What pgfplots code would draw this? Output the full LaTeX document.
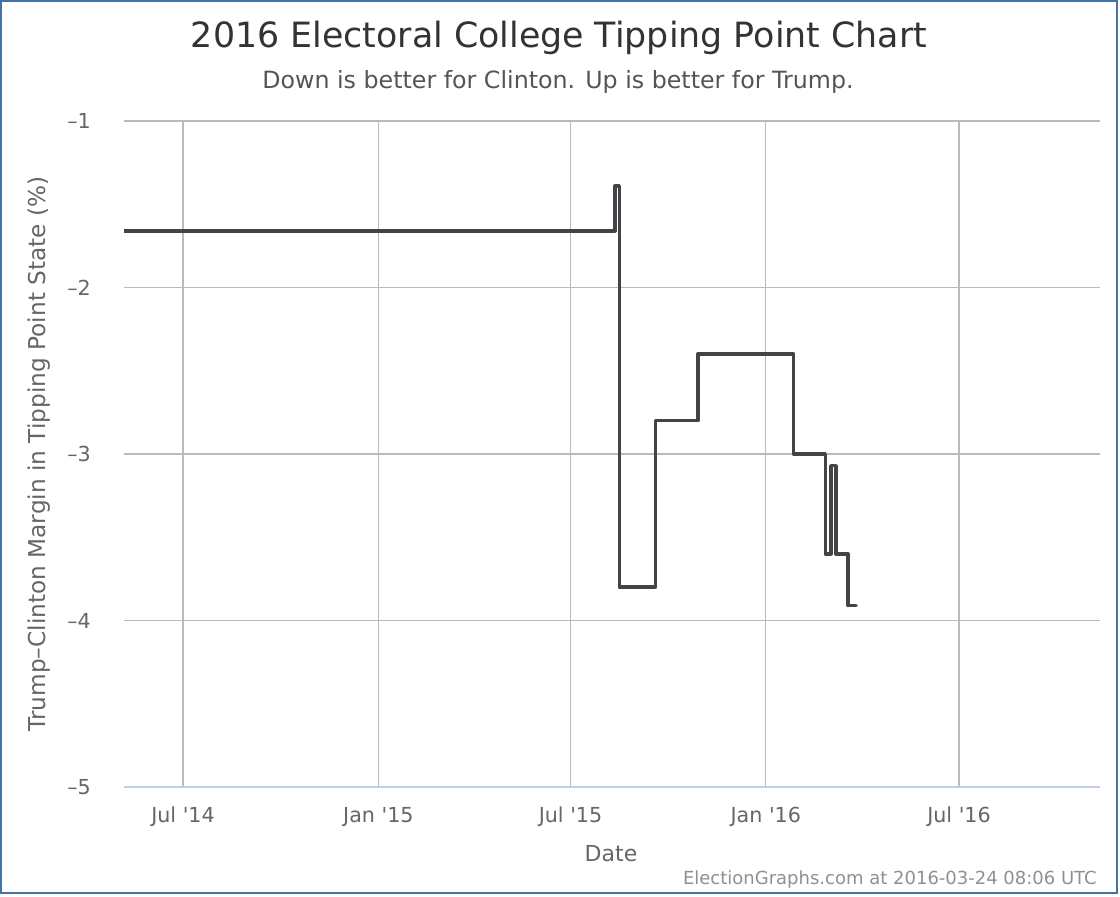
\documentclass[border=0pt]{standalone}
\usepackage{fontspec}
\setmainfont{DejaVu Sans}
\usepackage{pgfplots}
\pgfplotsset{compat=1.18}
\definecolor{bordercol}{HTML}{4572A7}
\definecolor{gridcol}{HTML}{BABABA}
\definecolor{axiscol}{HTML}{C0D0E0}
\definecolor{linecol}{HTML}{434348}
\definecolor{titlecol}{HTML}{333333}
\definecolor{subcol}{HTML}{555555}
\definecolor{labcol}{HTML}{666666}
\definecolor{credcol}{HTML}{909090}
\begin{document}
\begin{tikzpicture}
\path[use as bounding box] (0pt,0pt) rectangle (840pt,672pt);
\fill[white] (0pt,0pt) rectangle (840pt,672pt);
\begin{axis}[
  at={(93pt,81.75pt)}, anchor=south west,
  scale only axis,
  width=732pt, height=499.5pt,
  xmin=-55.6, xmax=863.8, ymin=-5, ymax=-1,
  xtick={0,184,365,549,731},
  xticklabels={Jul \textquotesingle14, Jan \textquotesingle15, Jul \textquotesingle15, Jan \textquotesingle16, Jul \textquotesingle16},
  ytick={-5,-4,-3,-2,-1},
  yticklabels={\textendash5,\textendash4,\textendash3,\textendash2,\textendash1},
  major tick length=0pt,
  xmajorgrids, ymajorgrids,
  grid style={draw=gridcol, line width=0.9pt},
  axis line style={draw=none},
  tick label style={font=\fontsize{15.5pt}{18pt}\selectfont, text=labcol},
  xticklabel style={anchor=north, inner sep=0pt, yshift=-15pt},
  yticklabel style={anchor=east, inner sep=0pt, xshift=-24.75pt},
  clip=true,
]
\draw[axiscol, line width=0.9pt] (axis cs:-55.6,-5) -- (axis cs:863.8,-5);
\addplot[linecol, line width=2.6pt, line join=round, line cap=round] coordinates {
  (-55.6,-1.66) (407,-1.66) (407,-1.39) (411,-1.39) (411,-3.80)
  (445,-3.80) (445,-2.80) (485,-2.80) (485,-2.40) (575,-2.40)
  (575,-3.00) (605,-3.00) (605,-3.60) (610.5,-3.60) (610.5,-3.07)
  (615,-3.07) (615,-3.60) (626.5,-3.60) (626.5,-3.91) (634,-3.91)
};
\end{axis}
\begin{scope}[x=0.75pt,y=-0.75pt,yshift=672pt]
\node[anchor=base, text=titlecol, font=\fontsize{26.1pt}{30pt}\selectfont, inner sep=0pt] at (559,48) {2016 Electoral College Tipping Point Chart};
\node[anchor=base, text=subcol, font=\fontsize{17.8pt}{20pt}\selectfont, inner sep=0pt] at (558,89) {Down is better for Clinton. Up is better for Trump.};
\node[anchor=center, rotate=90, text=labcol, font=\fontsize{17.4pt}{20pt}\selectfont, inner sep=0pt] at (39,454) {Trump\textendash Clinton Margin in Tipping Point State (\%)};
\node[anchor=base, text=labcol, font=\fontsize{16.5pt}{20pt}\selectfont, inner sep=0pt] at (611,861) {Date};
\node[anchor=base east, text=credcol, font=\fontsize{13.5pt}{16pt}\selectfont, inner sep=0pt] at (1097,884) {ElectionGraphs.com at 2016-03-24 08:06 UTC};
\draw[bordercol, line width=1.5pt] (1,1) rectangle (1117,893);
\end{scope}
\end{tikzpicture}
\end{document}
